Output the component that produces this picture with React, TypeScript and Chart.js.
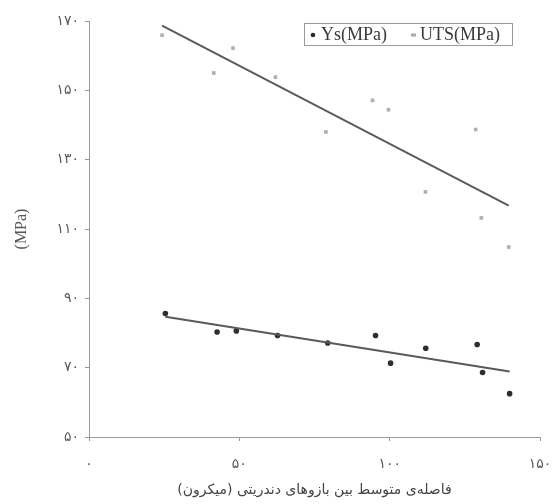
import React, { useEffect, useRef } from 'react';
import { Chart, registerables } from 'chart.js';

Chart.register(...registerables);

// ---- data ----
const seriesNames = ['Ys(MPa)', 'UTS(MPa)'];
const ysX = [25.4, 42.6, 49, 62.7, 79.4, 95.3, 100.3, 112, 129.1, 130.9, 139.9];
const ysValues = [85.6, 80.3, 80.6, 79.3, 77.1, 79.3, 71.3, 75.6, 76.7, 68.6, 62.5];
const utsX = [24.3, 41.5, 47.9, 62, 78.8, 94.3, 99.6, 111.9, 128.6, 130.5, 139.6];
const utsValues = [165.9, 155.0, 162.2, 153.8, 138, 147.1, 144.4, 120.7, 138.7, 113.2, 104.8];

const xTicks = [0, 50, 100, 150];
const xTickLabels = ['۰', '۵۰', '۱۰۰', '۱۵۰'];
const yTicks = [50, 70, 90, 110, 130, 150, 170];
const yTickLabels = ['۵۰', '۷۰', '۹۰', '۱۱۰', '۱۳۰', '۱۵۰', '۱۷۰'];

const xTitle = '\u200Fفاصله‌ی متوسط بین بازوهای دندریتی (میکرون)\u200F';
const yTitle = '(MPa)';

// least-squares trend line across the data's x-range
function trend(xs: number[], ys: number[]) {
  const n = xs.length;
  const mx = xs.reduce((a, b) => a + b, 0) / n;
  const my = ys.reduce((a, b) => a + b, 0) / n;
  let sxy = 0, sxx = 0;
  for (let i = 0; i < n; i++) {
    sxy += (xs[i] - mx) * (ys[i] - my);
    sxx += (xs[i] - mx) * (xs[i] - mx);
  }
  const b = sxy / sxx;
  const a = my - b * mx;
  const x0 = Math.min(...xs);
  const x1 = Math.max(...xs);
  return [{ x: x0, y: a + b * x0 }, { x: x1, y: a + b * x1 }];
}

const toPts = (xs: number[], ys: number[]) => xs.map((x, i) => ({ x, y: ys[i] }));

const boxLegend = {
  id: 'boxLegend',
  afterDraw(chart: any) {
    const ctx = chart.ctx;
    const bx = 304, by = 23, bw = 208, bh = 22;
    ctx.save();
    ctx.fillStyle = '#ffffff';
    ctx.fillRect(bx, by, bw, bh);
    ctx.strokeStyle = '#9a9a9a';
    ctx.lineWidth = 1;
    ctx.strokeRect(bx + 0.5, by + 0.5, bw, bh);
    ctx.font = '18px "Liberation Serif"';
    ctx.textBaseline = 'middle';
    const cy = by + bh / 2 + 1;
    // Ys marker
    ctx.beginPath();
    ctx.arc(bx + 9, cy, 2.3, 0, Math.PI * 2);
    ctx.fillStyle = '#2a2a2a';
    ctx.fill();
    ctx.fillStyle = '#3a3a3a';
    ctx.fillText(seriesNames[0], bx + 17, cy);
    // UTS marker
    const ux = bx + 110;
    ctx.fillStyle = '#a8a8a8';
    ctx.fillRect(ux - 3, cy - 1.5, 5, 3);
    ctx.fillStyle = '#3a3a3a';
    ctx.fillText(seriesNames[1], ux + 6, cy);
    ctx.restore();
  },
};

export default function App() {
  const ref = useRef<HTMLCanvasElement | null>(null);

  useEffect(() => {
    document.body.style.margin = '0';
    const canvas = ref.current;
    if (!canvas) return;
    const axisColor = '#9a9a9a';
    const tickColor = '#5a5a5a';
    const chart = new Chart(canvas, {
      type: 'scatter',
      data: {
        datasets: [
          {
            label: seriesNames[0] + ' trend',
            data: trend(ysX, ysValues),
            showLine: true,
            borderColor: '#5a5a5e',
            borderWidth: 2,
            pointRadius: 0,
          },
          {
            label: seriesNames[1] + ' trend',
            data: trend(utsX, utsValues),
            showLine: true,
            borderColor: '#5a5a5e',
            borderWidth: 2,
            pointRadius: 0,
          },
          {
            label: seriesNames[0],
            data: toPts(ysX, ysValues),
            pointStyle: 'circle',
            pointRadius: 2.8,
            backgroundColor: '#2e2e2e',
            borderColor: '#2e2e2e',
            borderWidth: 0,
          },
          {
            label: seriesNames[1],
            data: toPts(utsX, utsValues),
            pointStyle: 'rect',
            pointRadius: 2.6,
            backgroundColor: '#b0b0b0',
            borderColor: '#b0b0b0',
            borderWidth: 0,
          },
        ],
      },
      options: {
        animation: false,
        responsive: false,
        devicePixelRatio: 1,
        layout: { padding: { top: 21, right: 12, left: 0, bottom: 0 } },
        plugins: { legend: { display: false }, tooltip: { enabled: false } },
        scales: {
          x: {
            type: 'linear',
            min: 0,
            max: 150,
            afterBuildTicks: (s: any) => {
              s.ticks = xTicks.map((v) => ({ value: v }));
            },
            afterFit: (s: any) => {
              s.height = 67;
              s.paddingLeft = 0;
              s.paddingRight = 0;
            },
            grid: { drawOnChartArea: false, drawTicks: true, tickLength: 4, color: axisColor },
            border: { display: true, color: axisColor, width: 1 },
            ticks: {
              padding: 15,
              color: tickColor,
              font: { family: '"DejaVu Sans"', size: 14 },
              maxRotation: 0,
              callback: (v: any) => xTickLabels[xTicks.indexOf(Number(v))] ?? '',
            },
            title: {
              display: true,
              text: xTitle,
              color: '#444444',
              font: { family: '"DejaVu Sans"', size: 14 },
              padding: { top: 0, bottom: 5 },
            },
          },
          y: {
            type: 'linear',
            min: 50,
            max: 170,
            afterBuildTicks: (s: any) => {
              s.ticks = yTicks.map((v) => ({ value: v }));
            },
            afterFit: (s: any) => {
              s.width = 89;
              s.paddingTop = 0;
              s.paddingBottom = 0;
            },
            grid: { drawOnChartArea: false, drawTicks: true, tickLength: 4, color: axisColor },
            border: { display: true, color: axisColor, width: 1 },
            ticks: {
              padding: 6,
              color: tickColor,
              font: { family: '"DejaVu Sans"', size: 14 },
              callback: (v: any) => yTickLabels[yTicks.indexOf(Number(v))] ?? '',
            },
            title: {
              display: true,
              text: yTitle,
              color: '#555555',
              font: { family: '"Liberation Serif"', size: 16 },
              padding: { top: 12, bottom: 0 },
            },
          },
        },
      },
      plugins: [boxLegend],
    });
    return () => chart.destroy();
  }, []);

  return (
    <div style={{ width: 552, height: 504, background: '#ffffff' }}>
      <canvas ref={ref} width={552} height={504} />
    </div>
  );
}
